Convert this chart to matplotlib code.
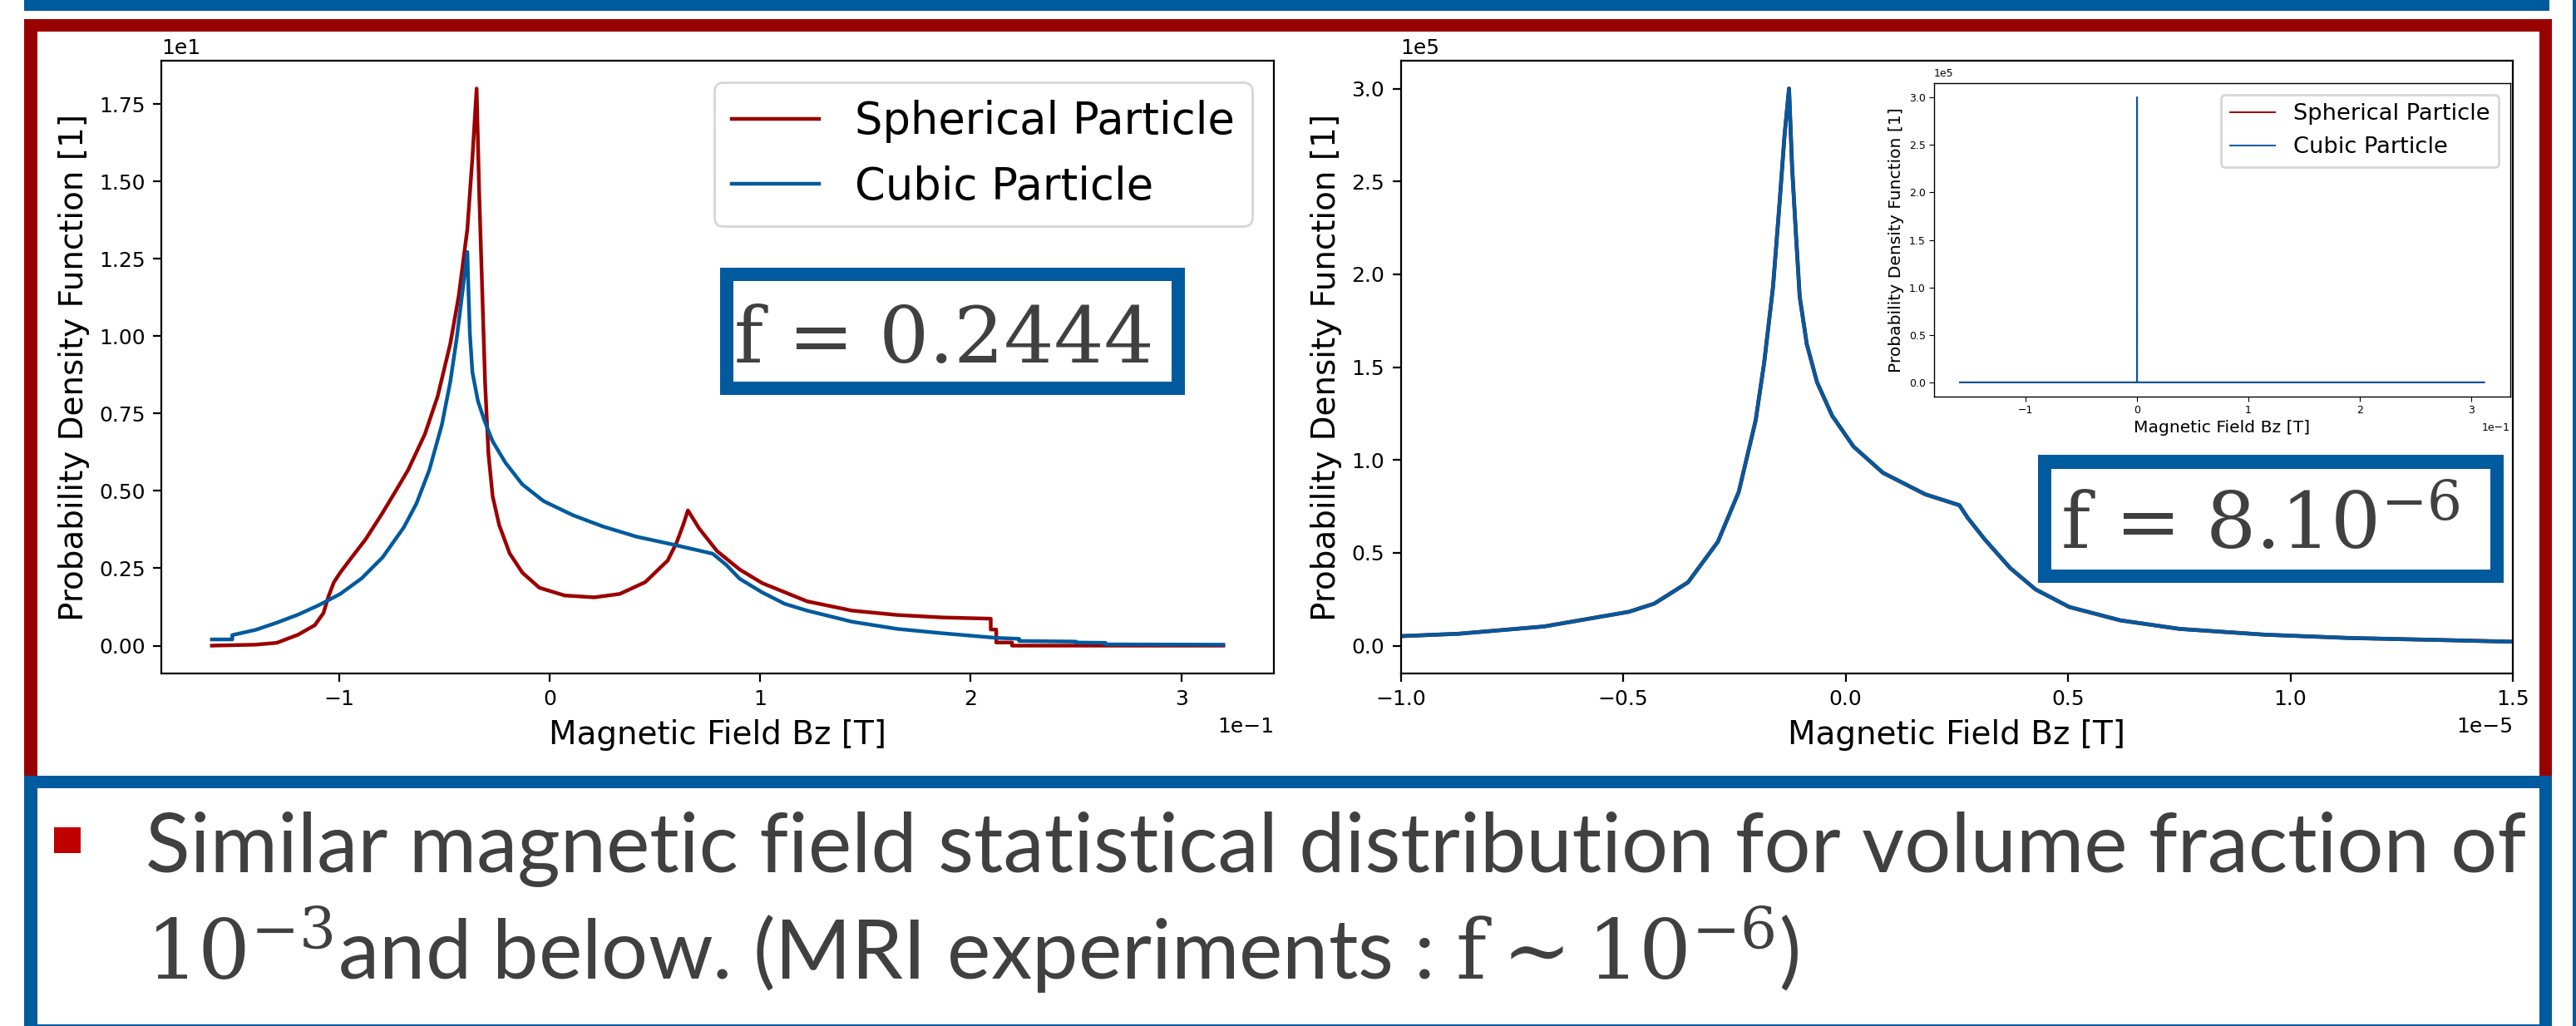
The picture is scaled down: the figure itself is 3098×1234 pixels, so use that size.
import numpy as np
import matplotlib
matplotlib.use('Agg')
import matplotlib.pyplot as plt
from matplotlib.patches import Rectangle

plt.rcParams['mathtext.fontset'] = 'custom'
plt.rcParams['mathtext.rm'] = 'DejaVu Serif'
plt.rcParams['mathtext.it'] = 'DejaVu Serif:italic'
plt.rcParams['mathtext.bf'] = 'DejaVu Serif:bold'

# ---- data: f = 0.2444 (left chart), Bz in T, PDF dimensionless
sph_x = [-0.1606, -0.140, -0.1298, -0.1197, -0.1117, -0.1076, -0.1052, -0.1026, -0.0996,
         -0.0936, -0.0875, -0.0795, -0.0734, -0.0674, -0.0594, -0.0533, -0.0473, -0.0433,
         -0.0392, -0.0368, -0.0348, -0.0336, -0.0322, -0.0308, -0.0292, -0.0272, -0.0241,
         -0.0191, -0.0131, -0.0050, 0.0070, 0.0211, 0.0332, 0.0453, 0.0560, 0.0603, 0.0635,
         0.0656, 0.0710, 0.0795, 0.0902, 0.1009, 0.1223, 0.1437, 0.1651, 0.1864, 0.2095,
         0.2095, 0.2121, 0.2121, 0.2196, 0.2196, 0.3200]
sph_y = [0.0, 0.03, 0.09, 0.35, 0.66, 1.05, 1.59, 2.05, 2.36,
         2.90, 3.44, 4.29, 4.98, 5.67, 6.83, 8.06, 9.76, 11.3,
         13.46, 15.77, 18.0, 14.69, 11.61, 8.53, 6.21, 4.83, 3.90,
         2.98, 2.36, 1.87, 1.62, 1.56, 1.67, 2.05, 2.75, 3.34, 3.93,
         4.37, 3.78, 3.05, 2.46, 2.02, 1.43, 1.13, 0.99, 0.91, 0.87,
         0.52, 0.52, 0.10, 0.10, 0.0, 0.0]

cub_x = [-0.1606, -0.1509, -0.1509, -0.1398, -0.1298, -0.1197, -0.1097, -0.0996, -0.0895,
         -0.0795, -0.0694, -0.0634, -0.0573, -0.0513, -0.0473, -0.0443, -0.0412, -0.0392,
         -0.0386, -0.0380, -0.0368, -0.0342, -0.0312, -0.0272, -0.0211, -0.0131, -0.0030,
         0.0111, 0.0252, 0.0412, 0.0582, 0.0774, 0.0838, 0.0902, 0.1009, 0.1116, 0.1223,
         0.1437, 0.1651, 0.1864, 0.2121, 0.2230, 0.2230, 0.2500, 0.2500, 0.2640, 0.2640, 0.3200]
cub_y = [0.20, 0.20, 0.34, 0.51, 0.74, 1.00, 1.31, 1.67, 2.17,
         2.85, 3.82, 4.59, 5.67, 7.14, 8.53, 9.91, 11.61, 12.72,
         11.3, 10.07, 8.83, 7.91, 7.29, 6.60, 5.91, 5.21, 4.67,
         4.21, 3.85, 3.52, 3.27, 2.97, 2.61, 2.16, 1.72, 1.35, 1.13,
         0.77, 0.54, 0.40, 0.25, 0.22, 0.15, 0.13, 0.10, 0.09, 0.04, 0.03]

# ---- data: f = 8e-6 (right chart + inset), identical for both shapes
low_x = [-0.159, -2e-4, -1.0e-5, -0.869e-5, -0.678e-5, -0.487e-5, -0.430e-5, -0.354e-5,
         -0.287e-5, -0.240e-5, -0.202e-5, -0.183e-5, -0.163e-5, -0.148e-5, -0.137e-5,
         -0.127e-5, -0.120e-5, -0.112e-5, -0.103e-5, -0.087e-5, -0.064e-5, -0.030e-5,
         0.018e-5, 0.084e-5, 0.179e-5, 0.256e-5, 0.275e-5, 0.313e-5, 0.370e-5, 0.427e-5,
         0.503e-5, 0.618e-5, 0.751e-5, 0.942e-5, 1.132e-5, 1.323e-5, 1.5e-5, 2e-4, 0.3115]
low_y = [0.0, 0.0, 0.051e5, 0.064e5, 0.103e5, 0.182e5, 0.226e5, 0.341e5,
         0.559e5, 0.828e5, 1.213e5, 1.521e5, 1.931e5, 2.392e5, 2.751e5,
         3.0e5, 2.572e5, 2.238e5, 1.879e5, 1.623e5, 1.418e5, 1.238e5,
         1.072e5, 0.931e5, 0.815e5, 0.756e5, 0.687e5, 0.572e5, 0.418e5, 0.303e5,
         0.208e5, 0.136e5, 0.090e5, 0.059e5, 0.041e5, 0.031e5, 0.021e5, 0.0, 0.0]

labels = ['Spherical Particle', 'Cubic Particle']
red = '#9b0000'
blue = '#005a9e'
frame_blue = '#005a9e'
frame_red = '#990000'
grey = '#404040'

W, H = 3098, 1234
DPI = 200
fig = plt.figure(figsize=(W / DPI, H / DPI), dpi=DPI)

# background slide decoration, pixel coordinates (y down)
bg = fig.add_axes([0, 0, 1, 1])
bg.set_xlim(0, W)
bg.set_ylim(H, 0)
bg.axis('off')

def rect(ax, x0, y0, x1, y1, c):
    ax.add_patch(Rectangle((x0, y0), x1 - x0, y1 - y0, facecolor=c, edgecolor='none'))

rect(bg, 29, 0, 3066, 13, frame_blue)
rect(bg, 3094, 0, 3098, H, frame_blue)
rect(bg, 29, 23, 3069, 945, frame_red)
rect(bg, 45, 38, 3054, 945, 'white')
rect(bg, 29, 933, 3069, H, frame_blue)
rect(bg, 45, 948, 3054, 1232, 'white')
rect(bg, 65, 995, 97, 1026, '#c00000')

# ---- left chart
axL = fig.add_axes([194 / W, 1 - 810 / H, (1532 - 194) / W, (810 - 73) / H])
axL.plot(sph_x, sph_y, color=red, lw=1.6, label=labels[0])
axL.plot(cub_x, cub_y, color=blue, lw=1.6, label=labels[1])
axL.ticklabel_format(style='sci', scilimits=(0, 0))
axL.tick_params(labelsize=9)
axL.xaxis.get_offset_text().set_fontsize(9)
axL.yaxis.get_offset_text().set_fontsize(9)
axL.set_xlabel('Magnetic Field Bz [T]', fontsize=14)
axL.set_ylabel('Probability Density Function [1]', fontsize=14)
axL.legend(loc='upper right', fontsize=19)

# ---- right chart
axR = fig.add_axes([1684.5 / W, 1 - 810 / H, (3022 - 1684.5) / W, (810 - 73) / H])
axR.plot(low_x, low_y, color=red, lw=1.7, label=labels[0])
axR.plot(low_x, low_y, color=blue, lw=1.6, label=labels[1])
axR.set_xlim(-1.0e-5, 1.5e-5)
axR.ticklabel_format(style='sci', scilimits=(0, 0))
axR.tick_params(labelsize=9)
axR.xaxis.get_offset_text().set_fontsize(9)
axR.yaxis.get_offset_text().set_fontsize(9)
axR.set_xlabel('Magnetic Field Bz [T]', fontsize=14)
axR.set_ylabel('Probability Density Function [1]', fontsize=14)

# ---- inset
axI = fig.add_axes([2325.5 / W, 1 - 477 / H, (3019 - 2325.5) / W, (477 - 100) / H])
axI.plot(low_x, low_y, color=red, lw=0.7, label=labels[0])
axI.plot(low_x, low_y, color=blue, lw=0.7, label=labels[1])
axI.ticklabel_format(style='sci', scilimits=(0, 0))
axI.tick_params(labelsize=4.5, length=2, width=0.4, pad=1.5)
for s in axI.spines.values():
    s.set_linewidth(0.5)
axI.xaxis.get_offset_text().set_fontsize(4.5)
axI.yaxis.get_offset_text().set_fontsize(4.5)
axI.set_xlabel('Magnetic Field Bz [T]', fontsize=7.3, labelpad=2)
axI.set_ylabel('Probability Density Function [1]', fontsize=7.3, labelpad=2)
axI.legend(loc='upper right', fontsize=9.8)

# ---- overlay boxes with volume fraction
ov = fig.add_axes([0, 0, 1, 1])
ov.set_xlim(0, W)
ov.set_ylim(H, 0)
ov.axis('off')
ov.patch.set_alpha(0)
rect(ov, 866, 322, 1425, 475, frame_blue)
rect(ov, 882, 338, 1409, 459, 'white')
ov.text(1135, 436, 'f = 0.2444', family='DejaVu Serif', fontsize=34, color=grey,
        ha='center', va='baseline')
rect(ov, 2451, 547, 3011, 701, frame_blue)
rect(ov, 2467, 564, 2995, 685, 'white')
ov.text(2718, 660, r'f = 8.10$^{-6}$', family='DejaVu Serif', fontsize=34, color=grey,
        ha='center', va='baseline')

# ---- bottom statement
t1 = bg.text(175, 1049, 'Similar magnetic field statistical distribution for volume fraction of',
             family='Lato', fontsize=36, color=grey, ha='left', va='baseline')
r = fig.canvas.get_renderer()
w = t1.get_window_extent(r).width
fs = 36 * 2864 / w
t1.set_fontsize(fs)
bg.text(175, 1178, r'$10^{-3}$and below. (MRI experiments : $\mathrm{f} \sim 10^{-6}$)',
        family='Lato', fontsize=fs, color=grey, ha='left', va='baseline')

fig.savefig('out.png', dpi=DPI)
